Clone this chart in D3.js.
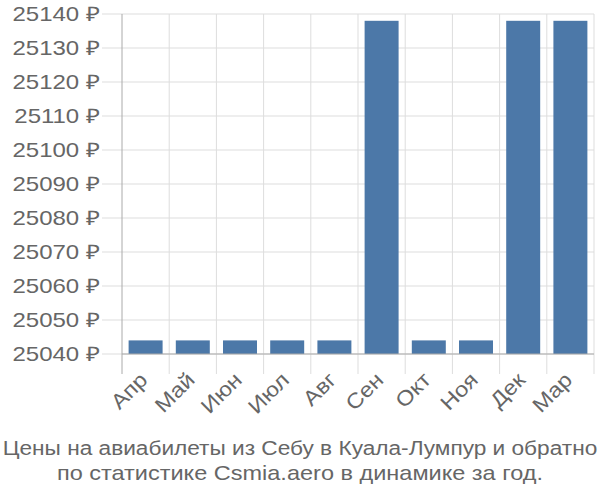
<!DOCTYPE html>
<html>
<head>
<meta charset="utf-8">
<script src="https://cdn.jsdelivr.net/npm/d3@7"></script>
<style>
  body { margin: 0; background: #fff; }
  text { font-family: "Liberation Sans", Arial, sans-serif; fill: #666; font-size: 20px; }
</style>
</head>
<body>
<svg id="chart" width="600" height="500"></svg>
<script>
var months = ['Апр', 'Май', 'Июн', 'Июл', 'Авг', 'Сен', 'Окт', 'Ноя', 'Дек', 'Мар'];
var prices = [25044, 25044, 25044, 25044, 25044, 25138, 25044, 25044, 25138, 25138];
var yTicks = [25040, 25050, 25060, 25070, 25080, 25090, 25100, 25110, 25120, 25130, 25140];
var titleLines = [
  'Цены на авиабилеты из Себу в Куала-Лумпур и обратно',
  'по статистике Csmia.aero в динамике за год.'
];

var svg = d3.select('#chart');
var plotLeft = 122, plotRight = 594, plotTop = 14, plotBottom = 354, tickOut = 20;
var stretch = 1.2; // labels in the picture are drawn wider than the font

var x = d3.scaleBand().domain(months).range([plotLeft, plotRight])
  .paddingInner(0.28).paddingOuter(0.14);
var xGrid = d3.scaleLinear().domain([0, months.length]).range([plotLeft, plotRight]);
var y = d3.scaleLinear().domain([yTicks[0], yTicks[yTicks.length - 1]]).range([plotBottom, plotTop]);

// horizontal grid + y ticks
svg.append('g').selectAll('line').data(yTicks).enter().append('line')
  .attr('x1', plotLeft - tickOut).attr('x2', plotRight)
  .attr('y1', function (d) { return y(d); }).attr('y2', function (d) { return y(d); })
  .attr('stroke', '#ddd').attr('stroke-width', 1);

// vertical grid + x ticks
svg.append('g').selectAll('line').data(d3.range(1, months.length + 1)).enter().append('line')
  .attr('x1', function (d) { return xGrid(d); }).attr('x2', function (d) { return xGrid(d); })
  .attr('y1', plotTop).attr('y2', plotBottom + tickOut)
  .attr('stroke', '#ddd').attr('stroke-width', 1);

// bars
svg.append('g').selectAll('rect').data(prices).enter().append('rect')
  .attr('x', function (d, i) { return x(months[i]); })
  .attr('width', x.bandwidth())
  .attr('y', function (d) { return y(d); })
  .attr('height', function (d) { return y(yTicks[0]) - y(d); })
  .attr('fill', '#4c78a8');

// axis lines
svg.append('line').attr('x1', plotLeft).attr('x2', plotLeft).attr('y1', plotTop).attr('y2', plotBottom + tickOut)
  .attr('stroke', '#aaa').attr('stroke-width', 1);
svg.append('line').attr('x1', plotLeft).attr('x2', plotRight).attr('y1', plotBottom).attr('y2', plotBottom)
  .attr('stroke', '#aaa').attr('stroke-width', 1);

// y labels
svg.append('g').selectAll('text').data(yTicks).enter().append('text')
  .attr('transform', function (d) {
    return 'translate(' + (plotLeft - 22) + ',' + y(d) + ') scale(' + stretch + ',1)';
  })
  .attr('dy', '0.35em').attr('text-anchor', 'end')
  .text(function (d) { return d + ' ₽'; });

// x labels
svg.append('g').selectAll('text').data(months).enter().append('text')
  .attr('transform', function (d) {
    return 'translate(' + (x(d) + x.bandwidth() / 2 - 2) + ',' + (plotBottom + 22) + ') rotate(-45) scale(1.12,1)';
  })
  .attr('text-anchor', 'end').attr('dy', '0.35em')
  .style('font-size', '21px')
  .text(function (d) { return d; });

// title, first line squeezed to fit the width
svg.append('g').selectAll('text').data(titleLines).enter().append('text')
  .attr('text-anchor', 'middle')
  .style('font-size', '21px')
  .text(function (d) { return d; })
  .attr('transform', function (d, i) {
    var k = Math.min(1.12, 595 / this.getComputedTextLength());
    return 'translate(300,' + (455 + i * 25) + ') scale(' + k + ',1)';
  });
</script>
</body>
</html>
